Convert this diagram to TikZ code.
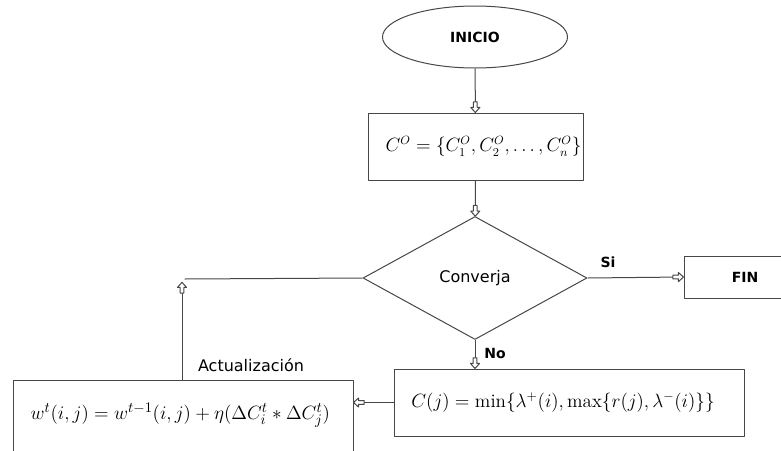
\documentclass[tikz,border=0pt]{standalone}
\usepackage{fontspec}
\setsansfont{DejaVu Sans}
\usetikzlibrary{shapes.geometric,arrows.meta}
% punta hueca en forma de bloque
\pgfdeclarearrow{
	name = Bloque,
	setup code = {
		\pgfarrowssettipend{0pt}
		\pgfarrowssetlineend{-7.5pt}
		\pgfarrowssetbackend{-8pt}
		\pgfarrowssetvisualbackend{-8pt}
	},
	drawing code = {
		\pgfsetdash{}{0pt}
		\pgfpathmoveto{\pgfpoint{0pt}{0pt}}
		\pgfpathlineto{\pgfpoint{-3.8pt}{3.4pt}}
		\pgfpathlineto{\pgfpoint{-3.8pt}{1.4pt}}
		\pgfpathlineto{\pgfpoint{-8pt}{1.4pt}}
		\pgfpathlineto{\pgfpoint{-8pt}{-1.4pt}}
		\pgfpathlineto{\pgfpoint{-3.8pt}{-1.4pt}}
		\pgfpathlineto{\pgfpoint{-3.8pt}{-3.4pt}}
		\pgfpathclose
		\pgfsetfillcolor{white}
		\pgfusepathqfillstroke
	}
}
\begin{document}
\begin{tikzpicture}[line join = round,x=0.75pt,y=-0.75pt,line width=0.75pt,
		linea/.style={draw=black!72},
		flow/.style={linea,-{Bloque}},
		caja/.style={draw=black!72,rectangle,inner sep=0pt},
		rotulo/.style={font=\sffamily\fontsize{12}{14}\selectfont},
		negrita/.style={font=\sffamily\bfseries\fontsize{10.5}{12}\selectfont}]
			\useasboundingbox (0,0) rectangle (781,450);
			\node[draw=black!72,ellipse,minimum width=138.75pt,minimum height=46.5pt,negrita] (inicio) at (475,37) {INICIO};
			\node[caja,minimum width=161.25pt,minimum height=50.25pt,font=\fontsize{13.3}{16}\selectfont] (cero) at (475.5,146.5) {\hspace*{12pt}\raisebox{-2pt}{$C^{O}=\left\{C_1^{O},C_2^{O},\ldots,C_n^{O}\right\}$}};
			\node[draw=black!72,diamond,aspect=1.8,inner sep=0pt,minimum width=168pt,minimum height=92.25pt,rotulo] (conv) at (475,278) {\raisebox{3pt}{Converja}};
			\node[caja,minimum width=91.5pt,minimum height=31.5pt,negrita] (fin) at (745,277) {FIN};
			\node[caja,minimum width=262.5pt,minimum height=50.25pt,font=\fontsize{14.3}{17}\selectfont] (cj) at (569,402.5) {\hspace*{-9pt}\raisebox{-2pt}{$C(j)=\min\{\lambda^{+}(i),\max\{r(j),\lambda^{-}(i)\}\}$}};
			\node[caja,minimum width=255pt,minimum height=54pt,anchor=north,font=\fontsize{15.8}{18}\selectfont] (upd) at (183,380) {\hspace*{-4pt}\raisebox{8pt}{$w^{t}(i,j)=w^{t-1}(i,j)+\eta\big(\Delta C_i^{t}*\Delta C_j^{t}\big)$}};
			\coordinate (giro) at (182,279);
			% etiquetas
			\node[negrita] (si) at (608,262) {Si};
			\node[negrita] (no) at (495,353) {No};
			\node[rotulo] (act) at (251,365) {Actualizaci\'on};
			% conectores
			\draw[flow] (inicio) -- (cero);
			\draw[flow] (cero) -- (conv);
			\draw[flow] (conv.east) -- (fin.west);
			\draw[flow] (conv.south) -- (conv.south |- cj.north);
			\draw[flow] (cj.west) -- (cj.west -| upd.east);
			\draw[linea] (conv.west) -- ([xshift=2]giro);
			\draw[flow,shorten >=2.5pt] (giro |- upd.north) -- (giro);
		\end{tikzpicture}
\end{document}
